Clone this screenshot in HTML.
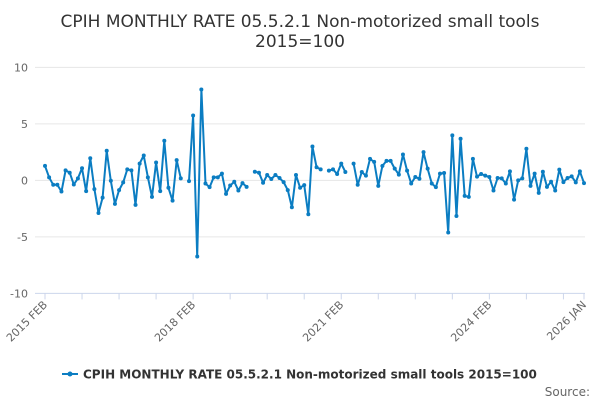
<!DOCTYPE html>
<html><head><meta charset="utf-8"><style>
body{margin:0;background:#fff;}
svg{display:block;font-family:"DejaVu Sans","Liberation Sans",sans-serif;}
</style></head><body>
<svg id="chart" width="600" height="400" viewBox="0 0 600 400">
<text x="300" y="27" text-anchor="middle" font-size="17" fill="#333"><tspan x="300" y="27">CPIH MONTHLY RATE 05.5.2.1 Non-motorized small tools</tspan><tspan x="300" y="47">2015=100</tspan></text>
<g id="grid"></g><g id="xaxis"></g><g id="series"></g>
<g>
<line x1="62" y1="374" x2="78" y2="374" stroke="#0b7dc2" stroke-width="2"/>
<circle cx="70" cy="374" r="2.5" fill="#0b7dc2"/>
<text x="83" y="378.5" font-size="12" font-weight="bold" fill="#333">CPIH MONTHLY RATE 05.5.2.1 Non-motorized small tools 2015=100</text>
</g>
<text x="590" y="396" text-anchor="end" font-size="12" fill="#666">Source:</text>
</svg>
<script>
const values=[1.28,0.27,-0.39,-0.39,-0.98,0.89,0.68,-0.36,0.18,1.07,-0.95,1.96,-0.77,-2.89,-1.52,2.62,-0.03,-2.08,-0.86,-0.18,0.98,0.89,-2.17,1.49,2.20,0.27,-1.46,1.58,-0.95,3.51,-0.65,-1.79,1.79,0.18,
null,-0.06,5.74,-6.73,8.04,-0.27,-0.6,0.27,0.27,0.6,-1.19,-0.45,-0.12,-0.89,-0.24,-0.57,
null,0.77,0.68,-0.21,0.48,0.12,0.48,0.21,-0.15,-0.86,-2.38,0.48,-0.65,-0.42,-3.0,3.0,1.16,0.98,
null,0.86,0.98,0.57,1.49,0.74,
null,1.49,-0.39,0.74,0.42,1.9,1.64,-0.48,1.28,1.73,1.73,1.04,0.51,2.29,0.86,-0.27,0.30,0.15,2.5,1.04,-0.27,-0.6,0.6,0.65,-4.61,3.99,-3.15,3.69,-1.37,
-1.46,1.9,0.33,0.57,0.42,0.30,-0.89,0.21,0.18,-0.27,0.8,-1.7,0,0.18,2.8,-0.48,0.6,-1.1,0.77,-0.57,-0.12,-0.89,0.95,-0.15,0.21,0.36,-0.18,0.8,-0.24];
const yTicks=[10,5,0,-5,-10];
const xLabelIdx=[0,36,72,108,131];
const xLabels=["2015 FEB","2018 FEB","2021 FEB","2024 FEB","2026 JAN"];
const NS="http://www.w3.org/2000/svg";
const X0=45,X1=584,Y0=180.4,YS=11.3;
const n=values.length;
const x=i=>X0+i*(X1-X0)/(n-1);
const y=v=>Y0-v*YS;
function mk(t,a,p){const e=document.createElementNS(NS,t);for(const k in a)e.setAttribute(k,a[k]);p.appendChild(e);return e;}
const grid=document.getElementById('grid');
yTicks.forEach(v=>{
 if(v!==-10){const l=mk('line',{x1:35,x2:585,y1:y(v),y2:y(v),stroke:'#e6e6e6','stroke-width':1},grid);
 
 }
 const t=mk('text',{x:28,y:y(v)+4,'text-anchor':'end','font-size':11,fill:'#666'},grid);
 
 
 t.textContent=v;
});
const xa=document.getElementById('xaxis');
const ay=y(-10);
const axl=mk('line',{x1:35,x2:585,y1:ay,y2:ay,stroke:'#ccd6eb','stroke-width':1},xa);


for(let i=0;i<n;i+=9){const tk=mk('line',{x1:x(i),x2:x(i),y1:ay,y2:ay+6,stroke:'#ccd6eb'},xa);
 
 }
const tkl=mk('line',{x1:x(n-1),x2:x(n-1),y1:ay,y2:ay+6,stroke:'#ccd6eb'},xa);


xLabelIdx.forEach((ix,k)=>{
 const px=x(ix)+3,py=ay+12;
 const t=mk('text',{x:px,y:py,'text-anchor':'end','font-size':11,fill:'#666',transform:`rotate(-45 ${px} ${py})`},xa);
 
 
 t.textContent=xLabels[k];
});
const s=document.getElementById('series');
let d='',pen=false;
values.forEach((v,i)=>{if(v===null){pen=false;return;}d+=(pen?'L':'M')+x(i).toFixed(1)+' '+y(v).toFixed(1);pen=true;});
const p=mk('path',{d:d,fill:'none',stroke:'#0b7dc2','stroke-width':2,'stroke-linejoin':'round'},s);


values.forEach((v,i)=>{if(v===null)return;
 const c=mk('circle',{cx:x(i),cy:y(v),r:2,fill:'#0b7dc2'},s);
 
 
});
</script>
</body></html>
